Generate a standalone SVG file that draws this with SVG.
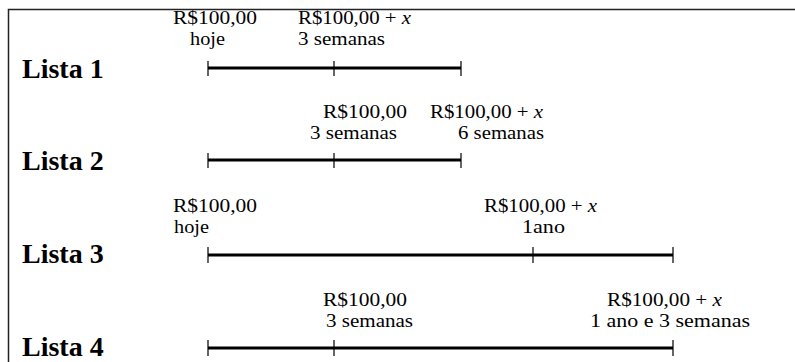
<svg xmlns="http://www.w3.org/2000/svg" width="795" height="362" viewBox="0 0 795 362">
<style>
.lbl{font-family:"Liberation Serif","Times New Roman",serif;font-size:18.5px;fill:#000}
.ttl{font-family:"Liberation Serif","Times New Roman",serif;font-size:28px;font-weight:bold;fill:#000}
.bar{stroke:#000;stroke-width:3;fill:none}
.tick{stroke:#000;stroke-width:1.2;fill:none}
.frame{stroke:#222;stroke-width:1.5;fill:none}
</style>
<rect width="795" height="362" fill="#fff"/>
<path class="frame" d="M8.5,362 V9.5 H795"/>
<g id="lista1">
<text class="ttl" x="22" y="78">Lista 1</text>
<text class="lbl" x="173" y="24" textLength="84" lengthAdjust="spacingAndGlyphs">R$100,00</text>
<text class="lbl" x="190" y="45" textLength="35" lengthAdjust="spacingAndGlyphs">hoje</text>
<text class="lbl" x="298" y="24" textLength="113" lengthAdjust="spacingAndGlyphs">R$100,00 + <tspan font-style="italic">x</tspan></text>
<text class="lbl" x="298" y="45" textLength="87" lengthAdjust="spacingAndGlyphs">3 semanas</text>
</g>
<g id="lista2">
<text class="ttl" x="22" y="170">Lista 2</text>
<text class="lbl" x="323" y="118" textLength="84" lengthAdjust="spacingAndGlyphs">R$100,00</text>
<text class="lbl" x="310" y="139" textLength="87" lengthAdjust="spacingAndGlyphs">3 semanas</text>
<text class="lbl" x="430" y="118" textLength="113" lengthAdjust="spacingAndGlyphs">R$100,00 + <tspan font-style="italic">x</tspan></text>
<text class="lbl" x="458" y="139" textLength="86" lengthAdjust="spacingAndGlyphs">6 semanas</text>
</g>
<g id="lista3">
<text class="ttl" x="22" y="263">Lista 3</text>
<text class="lbl" x="173" y="212" textLength="84" lengthAdjust="spacingAndGlyphs">R$100,00</text>
<text class="lbl" x="174" y="233" textLength="35" lengthAdjust="spacingAndGlyphs">hoje</text>
<text class="lbl" x="484" y="212" textLength="113" lengthAdjust="spacingAndGlyphs">R$100,00 + <tspan font-style="italic">x</tspan></text>
<text class="lbl" x="522" y="233" textLength="43" lengthAdjust="spacingAndGlyphs">1ano</text>
</g>
<g id="lista4">
<text class="ttl" x="22" y="356">Lista 4</text>
<text class="lbl" x="323" y="306" textLength="84" lengthAdjust="spacingAndGlyphs">R$100,00</text>
<text class="lbl" x="326" y="327" textLength="87" lengthAdjust="spacingAndGlyphs">3 semanas</text>
<text class="lbl" x="607" y="306" textLength="115" lengthAdjust="spacingAndGlyphs">R$100,00 + <tspan font-style="italic">x</tspan></text>
<text class="lbl" x="590" y="327" textLength="160" lengthAdjust="spacingAndGlyphs">1 ano e 3 semanas</text>
</g>
<g id="connectors">
<path class="bar" d="M208,68 H461"/>
<path class="tick" d="M208,61 V76 M334,61 V76 M461,61 V76"/>
<path class="bar" d="M208,160 H461"/>
<path class="tick" d="M208,153 V168 M334,153 V168 M461,153 V168"/>
<path class="bar" d="M208,255 H673"/>
<path class="tick" d="M208,247 V263 M533,247 V263 M673,247 V263"/>
<path class="bar" d="M208,348 H673"/>
<path class="tick" d="M208,340 V356 M334,340 V356 M673,340 V356"/>
</g>
</svg>
